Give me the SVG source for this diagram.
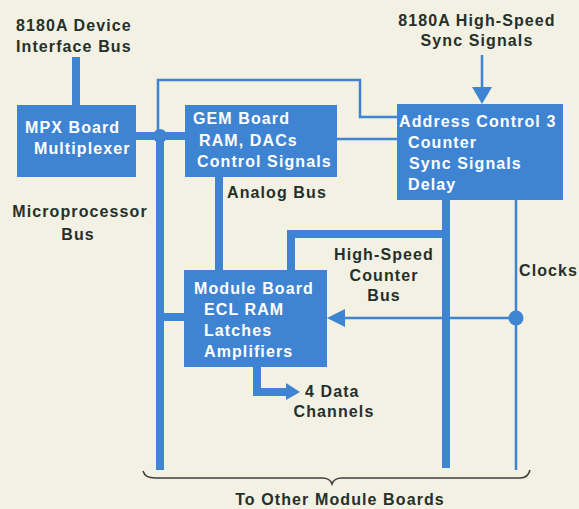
<svg xmlns="http://www.w3.org/2000/svg" width="579" height="509" viewBox="0 0 579 509">
<defs>
<style>
.bg{fill:#f3f1e3}
.box{fill:#3f84d3}
.t{font-family:"Liberation Sans",Arial,sans-serif;font-weight:bold;font-size:16px;letter-spacing:1.1px;fill:#26302a}
.w{font-family:"Liberation Sans",Arial,sans-serif;font-weight:bold;font-size:16px;letter-spacing:1.1px;fill:#ffffff}
.thick{stroke:#3f84d3;stroke-width:8;fill:none}
.thin{stroke:#3f84d3;stroke-width:2.5;fill:none}
.brace{stroke:#3a3f3a;stroke-width:1.5;fill:none}
.mid{text-anchor:middle}
</style>
</defs>
<rect class="bg" x="0" y="0" width="579" height="509"/>

<g id="connectors">
  <!-- device interface bus -->
  <line class="thick" x1="76" y1="57" x2="76" y2="106"/>
  <!-- MPX to GEM -->
  <line class="thick" x1="135" y1="136" x2="186" y2="136"/>
  <circle cx="160" cy="136" r="7" fill="#3f84d3"/>
  <!-- microprocessor bus -->
  <line class="thick" x1="160" y1="136" x2="160" y2="470"/>
  <!-- thin line junction to address control -->
  <polyline class="thin" points="158,136 158,80 360,80 360,117 398,117"/>
  <!-- GEM to address -->
  <line class="thin" x1="336" y1="139" x2="398" y2="139"/>
  <!-- sync signals arrow -->
  <line class="thin" x1="482" y1="55" x2="482" y2="90"/>
  <polygon points="472,87 492,87 482,104" fill="#3f84d3"/>
  <!-- analog bus -->
  <line class="thick" x1="219" y1="176" x2="219" y2="271"/>
  <!-- module to micro bus -->
  <line class="thick" x1="160" y1="317" x2="185" y2="317"/>
  <!-- high-speed counter bus -->
  <line class="thick" x1="446" y1="199" x2="446" y2="468"/>
  <polyline class="thick" points="446,234 291,234 291,271"/>
  <!-- clocks -->
  <line class="thin" x1="516" y1="199" x2="516" y2="470"/>
  <line class="thin" x1="516" y1="318" x2="340" y2="318"/>
  <polygon points="327,318 345,309 345,327" fill="#3f84d3"/>
  <circle cx="516" cy="318" r="7.5" fill="#3f84d3"/>
  <!-- data channels -->
  <polyline class="thick" points="257,366 257,392 288,392"/>
  <polygon points="286,383 300,392 286,400" fill="#3f84d3"/>
  <!-- brace -->
  <path class="brace" d="M143,471 Q145,478 155,478 L322,478 Q330,478 332,484 Q334,478 342,478 L520,478 Q528,478 530,470"/>
</g>

<g id="mpx">
  <rect class="box" x="17" y="105" width="119" height="72"/>
  <text class="w" x="25" y="133">MPX Board</text>
  <text class="w" x="34" y="154">Multiplexer</text>
</g>

<g id="gem">
  <rect class="box" x="185" y="105" width="152" height="72"/>
  <text class="w" x="193" y="124">GEM Board</text>
  <text class="w" x="199" y="146">RAM, DACs</text>
  <text class="w" x="197" y="167">Control Signals</text>
</g>

<g id="address">
  <rect class="box" x="397" y="104" width="166" height="96"/>
  <text class="w" x="399" y="127">Address Control 3</text>
  <text class="w" x="408" y="148">Counter</text>
  <text class="w" x="409" y="169">Sync Signals</text>
  <text class="w" x="408" y="190">Delay</text>
</g>

<g id="module">
  <rect class="box" x="184" y="270" width="143" height="97"/>
  <text class="w" x="194" y="294">Module Board</text>
  <text class="w" x="204" y="315">ECL RAM</text>
  <text class="w" x="204" y="336">Latches</text>
  <text class="w" x="204" y="357">Amplifiers</text>
</g>

<g id="labels">
  <text class="t" x="16" y="31">8180A Device</text>
  <text class="t" x="16" y="52">Interface Bus</text>
  <text class="t mid" x="477" y="26">8180A High-Speed</text>
  <text class="t mid" x="477" y="46">Sync Signals</text>
  <text class="t" x="227" y="198">Analog Bus</text>
  <text class="t mid" x="80" y="217">Microprocessor</text>
  <text class="t mid" x="78" y="240">Bus</text>
  <text class="t mid" x="384" y="260">High-Speed</text>
  <text class="t mid" x="384" y="281">Counter</text>
  <text class="t mid" x="384" y="301">Bus</text>
  <text class="t" x="519" y="276">Clocks</text>
  <text class="t" x="305" y="397">4 Data</text>
  <text class="t mid" x="334" y="417">Channels</text>
  <text class="t mid" x="340" y="505">To Other Module Boards</text>
</g>
</svg>
